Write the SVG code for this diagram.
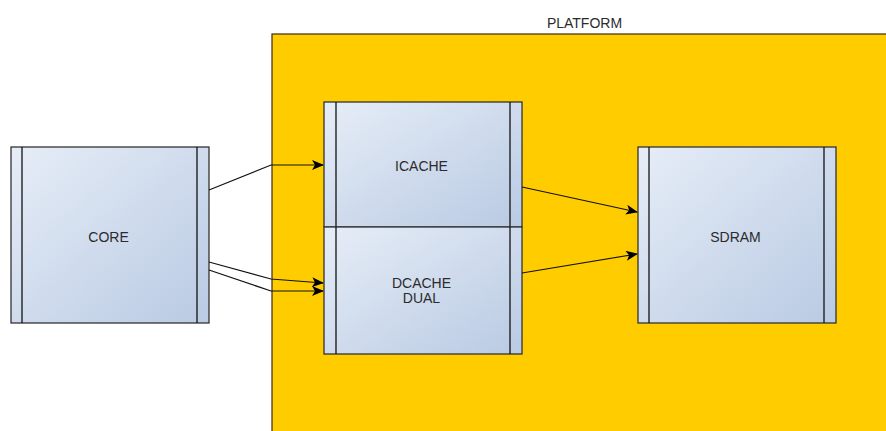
<svg xmlns="http://www.w3.org/2000/svg" width="886" height="431" viewBox="0 0 886 431">
<defs>
<linearGradient id="g" x1="0" y1="0" x2="1" y2="1">
<stop offset="0" stop-color="#e6edf7"/>
<stop offset="1" stop-color="#b9cae3"/>
</linearGradient>
<marker id="ah" markerWidth="12" markerHeight="10" refX="11" refY="5" orient="auto" markerUnits="userSpaceOnUse">
<path d="M0,0 L12,5 L0,10 L3,5 Z" fill="#000"/>
</marker>
<style>
.box{fill:url(#g);stroke:#333;stroke-width:1.3}
.bar{stroke:#111;stroke-width:1.3}
.t{font-family:"Liberation Sans",Arial,sans-serif;font-size:14px;fill:#2b2b2b;text-anchor:middle}
.c{fill:none;stroke:#111;stroke-width:1.2;marker-end:url(#ah)}
</style>
</defs>
<rect width="886" height="431" fill="#fff"/>
<g id="platform">
<rect x="272" y="34" width="620" height="410" fill="#ffcc00" stroke="#4a3a1a" stroke-width="1.3"/>
<text class="t" x="584.5" y="27.5">PLATFORM</text>
</g>
<g id="core">
<rect class="box" x="11" y="147" width="198" height="176"/>
<line class="bar" x1="22" y1="147" x2="22" y2="323"/>
<line class="bar" x1="197" y1="147" x2="197" y2="323"/>
<text class="t" x="108.5" y="242">CORE</text>
</g>
<g id="icache">
<rect class="box" x="324" y="102" width="198" height="125"/>
<line class="bar" x1="336" y1="102" x2="336" y2="227"/>
<line class="bar" x1="510" y1="102" x2="510" y2="227"/>
<text class="t" x="421.5" y="171">ICACHE</text>
</g>
<g id="dcache">
<rect class="box" x="324" y="227" width="198" height="127"/>
<line class="bar" x1="336" y1="227" x2="336" y2="354"/>
<line class="bar" x1="510" y1="227" x2="510" y2="354"/>
<text class="t" x="421.5" y="288">DCACHE</text>
<text class="t" x="421.5" y="303">DUAL</text>
</g>
<g id="sdram">
<rect class="box" x="638" y="147" width="198" height="176"/>
<line class="bar" x1="649" y1="147" x2="649" y2="323"/>
<line class="bar" x1="824" y1="147" x2="824" y2="323"/>
<text class="t" x="735.5" y="242">SDRAM</text>
</g>
<g id="connectors">
<polyline class="c" points="209,190 271,165 323,165"/>
<polyline class="c" points="209,262 271,279 323,283"/>
<polyline class="c" points="209,270 271,291 323,291"/>
<line class="c" x1="522" y1="187" x2="637" y2="212"/>
<line class="c" x1="522" y1="273" x2="637" y2="254"/>
</g>
</svg>
